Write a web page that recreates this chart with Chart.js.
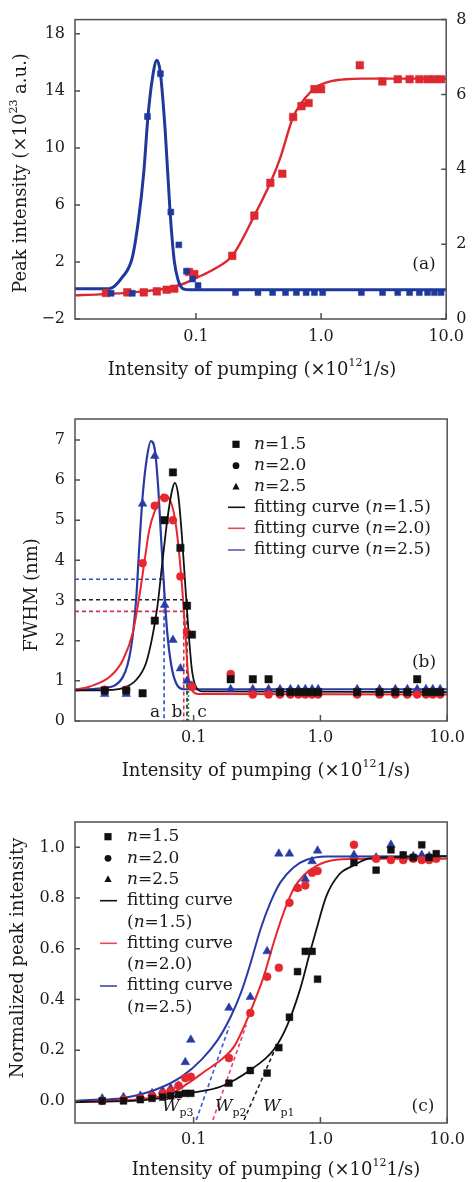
<!DOCTYPE html>
<html>
<head>
<meta charset="utf-8">
<script src="https://cdn.jsdelivr.net/npm/chart.js@4.4.1/dist/chart.umd.min.js"></script>
<style>
  html, body { margin: 0; padding: 0; background: #fff; }
  #wrap { position: relative; width: 472px; height: 1182px; overflow: hidden; }
  canvas { position: absolute; left: 0; }
</style>
</head>
<body>
<div id="wrap">
  <canvas id="chartA" width="472" height="390" style="top:0px"></canvas>
  <canvas id="chartB" width="472" height="395" style="top:390px"></canvas>
  <canvas id="chartC" width="472" height="397" style="top:785px"></canvas>
</div>
<script>
//------------------------------------------------------------- DATA -------------------------------------------------------------
const xTicks = [0.1, 1, 10];

// (a) peak intensity
const aYTicks = [-2, 2, 6, 10, 14, 18];
const aY2Ticks = [0, 2, 4, 6, 8];
const aBlueX = [0.021, 0.031, 0.041, 0.052, 0.063, 0.073, 0.084, 0.094, 0.104, 0.207, 0.313, 0.41, 0.52, 0.635, 0.76, 0.885, 1.03, 2.1, 3.1, 4.1, 5.1, 6.1, 7.1, 8.05, 9.1];
const aBlueY = [-0.2, -0.2, 12.2, 15.2, 5.5, 3.2, 1.35, 0.8, 0.35, -0.15, -0.15, -0.15, -0.15, -0.15, -0.15, -0.15, -0.15, -0.15, -0.15, -0.15, -0.15, -0.15, -0.15, -0.15, -0.15];
const aRedX = [0.0191, 0.0283, 0.0383, 0.0487, 0.0583, 0.0671, 0.088, 0.097, 0.195, 0.293, 0.393, 0.49, 0.598, 0.697, 0.795, 0.886, 1.0, 2.04, 3.09, 4.1, 5.1, 6.1, 7.1, 8.05, 9.1];
const aRedY = [-0.18, -0.13, -0.13, -0.06, 0.05, 0.12, 1.3, 1.15, 2.43, 5.25, 7.55, 8.19, 12.17, 12.93, 13.15, 14.12, 14.12, 15.8, 14.66, 14.82, 14.82, 14.82, 14.82, 14.82, 14.82];
const aBlueFitX = [0.0108, 0.0203, 0.0258, 0.031, 0.0349, 0.0383, 0.0414, 0.0451, 0.0487, 0.0518, 0.0567, 0.0621, 0.0671, 0.0722, 0.079, 0.09, 10];
const aBlueFitY = [0.12, 0.12, 0.93, 2.31, 5.08, 8.31, 12.24, 15.0, 16.15, 15.35, 11.3, 5.54, 2.08, 0.7, 0.12, 0.05, 0.05];
const aRedFitX = [0.0108, 0.0169, 0.0309, 0.0567, 0.0766, 0.1037, 0.14, 0.195, 0.293, 0.393, 0.469, 0.598, 0.697, 0.81, 0.91, 1.03, 1.23, 1.57, 2.14, 10];
const aRedFitY = [-0.34, -0.27, -0.13, 0.12, 0.42, 0.93, 1.51, 2.43, 5.25, 7.55, 9.23, 12.17, 13.16, 13.85, 14.26, 14.49, 14.7, 14.82, 14.86, 14.86];

// (b) FWHM
const bYTicks = [0, 1, 2, 3, 4, 5, 6, 7];
const bX = [0.0199, 0.0294, 0.0396, 0.0494, 0.0591, 0.0687, 0.0787, 0.0887, 0.097, 0.196, 0.293, 0.39, 0.48, 0.58, 0.67, 0.76, 0.86, 0.96, 1.95, 2.93, 3.9, 4.85, 5.8, 6.8, 7.7, 8.8];
const bBlackY = [0.76, 0.76, 0.69, 2.5, 5.0, 6.19, 4.31, 2.87, 2.15, 1.04, 1.04, 1.04, 0.72, 0.72, 0.72, 0.72, 0.72, 0.72, 0.72, 0.72, 0.72, 0.72, 1.04, 0.72, 0.72, 0.72];
const bRedY = [0.78, 0.78, 3.93, 5.36, 5.55, 5.0, 3.6, 2.2, 0.85, 1.17, 0.66, 0.66, 0.66, 0.66, 0.66, 0.66, 0.66, 0.66, 0.66, 0.66, 0.66, 0.66, 0.66, 0.66, 0.66, 0.66];
const bBlueY = [0.67, 0.67, 5.41, 6.6, 2.89, 2.02, 1.31, 1.0, 0.88, 0.79, 0.79, 0.79, 0.79, 0.79, 0.79, 0.79, 0.79, 0.79, 0.79, 0.79, 0.79, 0.79, 0.79, 0.79, 0.79, 0.79];
const bBlackFitX = [0.0116, 0.02, 0.0277, 0.0352, 0.0421, 0.0473, 0.0518, 0.0566, 0.062, 0.0678, 0.0711, 0.0755, 0.0802, 0.0861, 0.0914, 0.097, 0.104, 0.116, 10];
const bBlackFitY = [0.76, 0.77, 0.82, 1.02, 1.44, 2.1, 2.85, 3.93, 5.01, 5.76, 5.93, 5.64, 4.76, 3.35, 2.19, 1.27, 0.86, 0.74, 0.72];
const bRedFitX = [0.0116, 0.0152, 0.0218, 0.0277, 0.0331, 0.0373, 0.0408, 0.0447, 0.0504, 0.0574, 0.0639, 0.0699, 0.0755, 0.0811, 0.0861, 0.0903, 0.097, 0.109, 10];
const bRedFitY = [0.78, 0.86, 1.1, 1.52, 2.19, 3.1, 3.93, 4.76, 5.3, 5.64, 5.55, 5.18, 4.43, 3.35, 2.19, 1.19, 0.77, 0.67, 0.66];
const bBlueFitX = [0.0116, 0.0193, 0.0277, 0.0322, 0.0352, 0.0373, 0.0396, 0.0426, 0.046, 0.0494, 0.0525, 0.0551, 0.0584, 0.062, 0.067, 0.0728, 0.0836, 10];
const bBlueFitY = [0.78, 0.82, 1.1, 1.85, 3.02, 4.35, 5.59, 6.51, 6.97, 6.76, 5.84, 4.68, 3.35, 2.19, 1.35, 0.94, 0.79, 0.79];
// half-maximum guide lines (a, b, c)
const bBlueDashX = [0.0116, 0.0585, 0.0585];
const bBlueDashY = [3.53, 3.53, 0];
const bBlackDashX = [0.0116, 0.0887, 0.0887];
const bBlackDashY = [3.02, 3.02, 0];
const bRedDashX = [0.0116, 0.0836, 0.0836];
const bRedDashY = [2.73, 2.73, 0];
const bGreenDashX = [0.091, 0.091];
const bGreenDashY = [0, 1.0];

// (c) normalized peak intensity
const cYTicks = [0, 0.2, 0.4, 0.6, 0.8, 1.0];
const cX = [0.019, 0.028, 0.038, 0.047, 0.057, 0.066, 0.076, 0.086, 0.095, 0.19, 0.28, 0.38, 0.47, 0.57, 0.66, 0.76, 0.86, 0.95, 1.84, 2.75, 3.6, 4.5, 5.4, 6.3, 7.2, 8.2];
const cBlackY = [0.0, 0.0, 0.005, 0.01, 0.015, 0.02, 0.025, 0.03, 0.03, 0.07, 0.12, 0.11, 0.21, 0.33, 0.51, 0.59, 0.59, 0.48, 0.94, 0.91, 0.99, 0.97, 0.96, 1.01, 0.96, 0.975];
const cRedY = [0.0, 0.005, 0.01, 0.02, 0.03, 0.04, 0.06, 0.09, 0.095, 0.169, 0.347, 0.49, 0.525, 0.782, 0.84, 0.85, 0.9, 0.907, 1.01, 0.955, 0.95, 0.95, 0.955, 0.95, 0.95, 0.955];
const cBlueY = [0.01, 0.015, 0.02, 0.03, 0.04, 0.05, 0.06, 0.153, 0.241, 0.367, 0.41, 0.59, 0.975, 0.975, 0.84, 0.875, 0.945, 0.987, 0.97, 0.96, 1.01, 0.965, 0.965, 0.97, 0.965, 0.965];
const cBlackFitX = [0.0116, 0.0151, 0.033, 0.0672, 0.0906, 0.1645, 0.282, 0.428, 0.543, 0.69, 0.826, 0.931, 1.114, 1.41, 1.8, 2.42, 10];
const cBlackFitY = [-0.005, -0.003, 0.0, 0.017, 0.03, 0.057, 0.123, 0.202, 0.294, 0.439, 0.584, 0.677, 0.808, 0.894, 0.927, 0.956, 0.965];
const cRedFitX = [0.0116, 0.0151, 0.037, 0.0672, 0.0906, 0.122, 0.1645, 0.209, 0.25, 0.299, 0.358, 0.428, 0.513, 0.613, 0.733, 0.931, 1.33, 2.42, 10];
const cRedFitY = [-0.005, -0.003, 0.007, 0.03, 0.07, 0.116, 0.162, 0.215, 0.294, 0.387, 0.492, 0.624, 0.743, 0.835, 0.888, 0.927, 0.951, 0.955, 0.955];
const cBlueFitX = [0.0116, 0.0151, 0.0274, 0.0499, 0.0804, 0.115, 0.155, 0.197, 0.236, 0.282, 0.337, 0.403, 0.482, 0.613, 0.778, 1.114, 10];
const cBlueFitY = [0.0, 0.004, 0.011, 0.044, 0.096, 0.162, 0.241, 0.334, 0.426, 0.545, 0.677, 0.782, 0.861, 0.921, 0.951, 0.964, 0.965];
// threshold tangents W_p1..W_p3
const cBlueTanX = [0.105, 0.191];
const cBlueTanY = [-0.075, 0.294];
const cRedTanX = [0.142, 0.26];
const cRedTanY = [-0.075, 0.3];
const cBlackTanX = [0.25, 0.46];
const cBlackTanY = [-0.075, 0.228];

//------------------------------------------------------------- STYLE -------------------------------------------------------------
const FONT = '"DejaVu Serif", serif';
const INK = '#1b1b1b';
const FRAME = '#505050';
const BLACK = '#111111';
const RED = '#e8262e';
const BLUE = '#2a3aa4';
const A_BLUE = '#1f389c';
const A_RED = '#dc2830';

function pts(xs, ys) {
    return xs.map((x, i) => ({ x: x, y: ys[i] }));
}
function fitLine(xs, ys, color, w) {
    return { data: pts(xs, ys), showLine: true, borderColor: color, borderWidth: w, pointRadius: 0,
        cubicInterpolationMode: 'monotone', fill: false, order: 2 };
}
function marks(xs, ys, style, r, color) {
    return { data: pts(xs, ys), showLine: false, pointStyle: style, pointRadius: r,
        pointBackgroundColor: color, pointBorderColor: color, pointBorderWidth: 0.5, order: 1 };
}
function dashLine(xs, ys, color, dash) {
    return { data: pts(xs, ys), showLine: true, borderColor: color, borderWidth: 1.6,
        borderDash: dash || [4, 3], pointRadius: 0, fill: false, order: 3 };
}

function xAxis(min, h, pad) {
    return {
        type: 'logarithmic', min: min, max: 10,
        afterBuildTicks: s => { s.ticks = xTicks.map(v => ({ value: v })); },
        afterFit: s => { s.height = h; },
        grid: { display: false, drawTicks: false }, border: { display: false },
        ticks: { color: INK, font: { family: FONT, size: 16 }, padding: pad, maxRotation: 0, autoSkip: false,
            callback: v => Number(v).toFixed(1) }
    };
}
function yAxis(min, max, ticks, fmt, pos, w) {
    return {
        type: 'linear', position: pos, min: min, max: max,
        afterBuildTicks: s => { s.ticks = ticks.map(v => ({ value: v })); },
        afterFit: s => { s.width = w; },
        grid: { display: false, drawTicks: false }, border: { display: false },
        ticks: { color: INK, font: { family: FONT, size: 16 }, padding: 10, callback: fmt }
    };
}

//------------------------------------------------------------- TEXT HELPERS -------------------------------------------------------------
function setFont(ctx, p) {
    ctx.font = (p.it ? 'italic ' : '') + p.size + 'px ' + FONT;
}
function drawParts(ctx, parts, x, y, align) {
    let w = 0;
    parts.forEach(p => { setFont(ctx, p); w += ctx.measureText(p.t).width; });
    let cx = align === 'center' ? x - w / 2 : x;
    parts.forEach(p => {
        setFont(ctx, p);
        ctx.fillText(p.t, cx, y + (p.dy || 0));
        cx += ctx.measureText(p.t).width;
    });
}
// "n=1.5" -> italic n
function withN(s, size) {
    const i = s.indexOf('n=');
    if (i < 0) return [{ t: s, size: size }];
    return [{ t: s.slice(0, i), size: size }, { t: 'n', size: size, it: true }, { t: s.slice(i + 1), size: size }];
}
function drawMark(ctx, style, x, y, r) {
    ctx.beginPath();
    if (style === 'rect') {
        ctx.rect(x - r, y - r, 2 * r, 2 * r);
    } else if (style === 'circle') {
        ctx.arc(x, y, r, 0, Math.PI * 2);
    } else {
        ctx.moveTo(x, y - r * 1.1);
        ctx.lineTo(x + r, y + r * 0.75);
        ctx.lineTo(x - r, y + r * 0.75);
        ctx.closePath();
    }
    ctx.fill();
}

function decor(cfg) {
    return {
        id: 'decor',
        afterDraw(chart) {
            const ctx = chart.ctx, a = chart.chartArea, sc = chart.scales;
            ctx.save();
            // frame
            ctx.strokeStyle = FRAME;
            ctx.lineWidth = 1.5;
            ctx.strokeRect(a.left, a.top, a.right - a.left, a.bottom - a.top);
            // inward tick marks
            ctx.beginPath();
            sc.x.ticks.forEach(t => {
                const p = sc.x.getPixelForValue(t.value);
                ctx.moveTo(p, a.bottom); ctx.lineTo(p, a.bottom - 6);
            });
            sc.y.ticks.forEach(t => {
                const p = sc.y.getPixelForValue(t.value);
                ctx.moveTo(a.left, p); ctx.lineTo(a.left + 5, p);
            });
            if (sc.y2) {
                sc.y2.ticks.forEach(t => {
                    const p = sc.y2.getPixelForValue(t.value);
                    ctx.moveTo(a.right, p); ctx.lineTo(a.right - 5, p);
                });
            }
            ctx.stroke();

            ctx.fillStyle = INK;
            ctx.textBaseline = 'middle';
            // axis titles
            drawParts(ctx, cfg.xTitle, cfg.xTitleAt[0], cfg.xTitleAt[1], 'center');
            ctx.save();
            ctx.translate(cfg.yTitleAt[0], cfg.yTitleAt[1]);
            ctx.rotate(-Math.PI / 2);
            drawParts(ctx, cfg.yTitle, 0, 0, 'center');
            ctx.restore();

            // legend
            if (cfg.legend) {
                const L = cfg.legend;
                L.items.forEach((it, i) => {
                    const y = L.rows[i];
                    if (it.mark) {
                        ctx.fillStyle = BLACK;
                        drawMark(ctx, it.mark, L.mx, y, it.mark === 'circle' ? 3.4 : 3.6);
                    }
                    if (it.line) {
                        ctx.strokeStyle = it.line;
                        ctx.lineWidth = 1.6;
                        ctx.setLineDash([]);
                        ctx.beginPath();
                        ctx.moveTo(L.lx[0], y); ctx.lineTo(L.lx[1], y);
                        ctx.stroke();
                    }
                    ctx.fillStyle = INK;
                    drawParts(ctx, withN(it.text, 17), L.tx, y, 'left');
                });
            }
            // notes
            (cfg.notes || []).forEach(n => {
                ctx.fillStyle = INK;
                drawParts(ctx, n.parts, n.x, n.y, n.align || 'center');
            });
            ctx.restore();
        }
    };
}

const xTitleParts = [{ t: 'Intensity of pumping (\u00d710', size: 18 }, { t: '12', size: 11, dy: -7 }, { t: '1/s)', size: 18 }];

Chart.defaults.animation = false;
Chart.defaults.font.family = FONT;

// ---------------------------------------------------------- (a) ----------------------------------------------------------
new Chart(document.getElementById('chartA'), {
    type: 'line',
    data: {
        datasets: [
            marks(aBlueX, aBlueY, 'rect', 4.2, A_BLUE),
            marks(aRedX, aRedY, 'rect', 5.4, A_RED),
            fitLine(aBlueFitX, aBlueFitY, A_BLUE, 3),
            fitLine(aRedFitX, aRedFitY, A_RED, 2.4)
        ]
    },
    options: {
        responsive: false,
        layout: { padding: { top: 16, left: 0, right: 0, bottom: 0 } },
        plugins: { legend: { display: false }, tooltip: { enabled: false } },
        scales: {
            x: xAxis(0.0108, 71, 8),
            y: yAxis(-2, 19, aYTicks, v => (v < 0 ? '\u2212' + Math.abs(v) : String(v)), 'left', 75),
            y2: yAxis(0, 8, aY2Ticks, v => String(v), 'right', 20)
        }
    },
    plugins: [decor({
        xTitle: xTitleParts, xTitleAt: [252, 370],
        yTitle: [{ t: 'Peak intensity (\u00d710', size: 18 }, { t: '23', size: 11, dy: -7 }, { t: ' a.u.)', size: 18 }],
        yTitleAt: [21, 173],
        notes: [{ parts: [{ t: '(a)', size: 17 }], x: 424, y: 265 }]
    })]
});

// ---------------------------------------------------------- (b) ----------------------------------------------------------
new Chart(document.getElementById('chartB'), {
    type: 'line',
    data: {
        datasets: [
            marks(bX, bBlackY, 'rect', 5.2, BLACK),
            marks(bX, bRedY, 'circle', 4, RED),
            marks(bX, bBlueY, 'triangle', 5, BLUE),
            fitLine(bBlackFitX, bBlackFitY, BLACK, 1.8),
            fitLine(bRedFitX, bRedFitY, RED, 2),
            fitLine(bBlueFitX, bBlueFitY, BLUE, 2.2),
            dashLine(bBlueDashX, bBlueDashY, '#2f4fc4'),
            dashLine(bBlackDashX, bBlackDashY, '#222222'),
            dashLine(bRedDashX, bRedDashY, '#d83050'),
            dashLine(bGreenDashX, bGreenDashY, '#2a9a48', [2, 2])
        ]
    },
    options: {
        responsive: false,
        layout: { padding: { top: 29, left: 0, right: 20, bottom: 0 } },
        plugins: { legend: { display: false }, tooltip: { enabled: false } },
        scales: {
            x: xAxis(0.0116, 64, 7),
            y: yAxis(0, 7.52, bYTicks, v => String(v), 'left', 75)
        }
    },
    plugins: [decor({
        xTitle: xTitleParts, xTitleAt: [266, 381],
        yTitle: [{ t: 'FWHM (nm)', size: 18 }],
        yTitleAt: [32, 205],
        legend: {
            mx: 236, lx: [228, 245], tx: 254,
            rows: [54.3, 75.7, 96.7, 117.3, 138.3, 160],
            items: [
                { mark: 'rect', text: 'n=1.5' },
                { mark: 'circle', text: 'n=2.0' },
                { mark: 'triangle', text: 'n=2.5' },
                { line: BLACK, text: 'fitting curve (n=1.5)' },
                { line: '#e84a50', text: 'fitting curve (n=2.0)' },
                { line: '#5560b0', text: 'fitting curve (n=2.5)' }
            ]
        },
        notes: [
            { parts: [{ t: '(b)', size: 17 }], x: 424, y: 273 },
            { parts: [{ t: 'a', size: 17 }], x: 155, y: 323 },
            { parts: [{ t: 'b', size: 17 }], x: 177, y: 323 },
            { parts: [{ t: 'c', size: 17 }], x: 202, y: 323 }
        ]
    })]
});

// ---------------------------------------------------------- (c) ----------------------------------------------------------
new Chart(document.getElementById('chartC'), {
    type: 'line',
    data: {
        datasets: [
            marks(cX, cBlackY, 'rect', 4.8, BLACK),
            marks(cX, cRedY, 'circle', 4, RED),
            marks(cX, cBlueY, 'triangle', 5, BLUE),
            fitLine(cBlackFitX, cBlackFitY, BLACK, 1.8),
            fitLine(cRedFitX, cRedFitY, RED, 2),
            fitLine(cBlueFitX, cBlueFitY, BLUE, 2),
            dashLine(cBlueTanX, cBlueTanY, '#2f5ad0'),
            dashLine(cRedTanX, cRedTanY, '#ee3a78'),
            dashLine(cBlackTanX, cBlackTanY, '#222222')
        ]
    },
    options: {
        responsive: false,
        layout: { padding: { top: 37, left: 0, right: 20, bottom: 0 } },
        plugins: { legend: { display: false }, tooltip: { enabled: false } },
        scales: {
            x: xAxis(0.0116, 59, 7),
            y: yAxis(-0.087, 1.1, cYTicks, v => Number(v).toFixed(1), 'left', 75)
        }
    },
    plugins: [decor({
        xTitle: xTitleParts, xTitleAt: [276, 385],
        yTitle: [{ t: 'Normalized peak intensity', size: 18 }],
        yTitleAt: [18, 173],
        legend: {
            mx: 108, lx: [100, 117], tx: 127,
            rows: [51.7, 73.3, 94.3, 115.7, 137.7, 158.3, 180, 201, 222.7],
            items: [
                { mark: 'rect', text: 'n=1.5' },
                { mark: 'circle', text: 'n=2.0' },
                { mark: 'triangle', text: 'n=2.5' },
                { line: BLACK, text: 'fitting curve' },
                { text: '(n=1.5)' },
                { line: '#e84a50', text: 'fitting curve' },
                { text: '(n=2.0)' },
                { line: '#3a48b0', text: 'fitting curve' },
                { text: '(n=2.5)' }
            ]
        },
        notes: [
            { parts: [{ t: '(c)', size: 17 }], x: 423, y: 322 },
            { parts: [{ t: 'W', size: 17, it: true }, { t: 'p3', size: 11, dy: 6 }], x: 162, y: 322, align: 'left' },
            { parts: [{ t: 'W', size: 17, it: true }, { t: 'p2', size: 11, dy: 6 }], x: 215, y: 322, align: 'left' },
            { parts: [{ t: 'W', size: 17, it: true }, { t: 'p1', size: 11, dy: 6 }], x: 263, y: 322, align: 'left' }
        ]
    })]
});
</script>
</body>
</html>
